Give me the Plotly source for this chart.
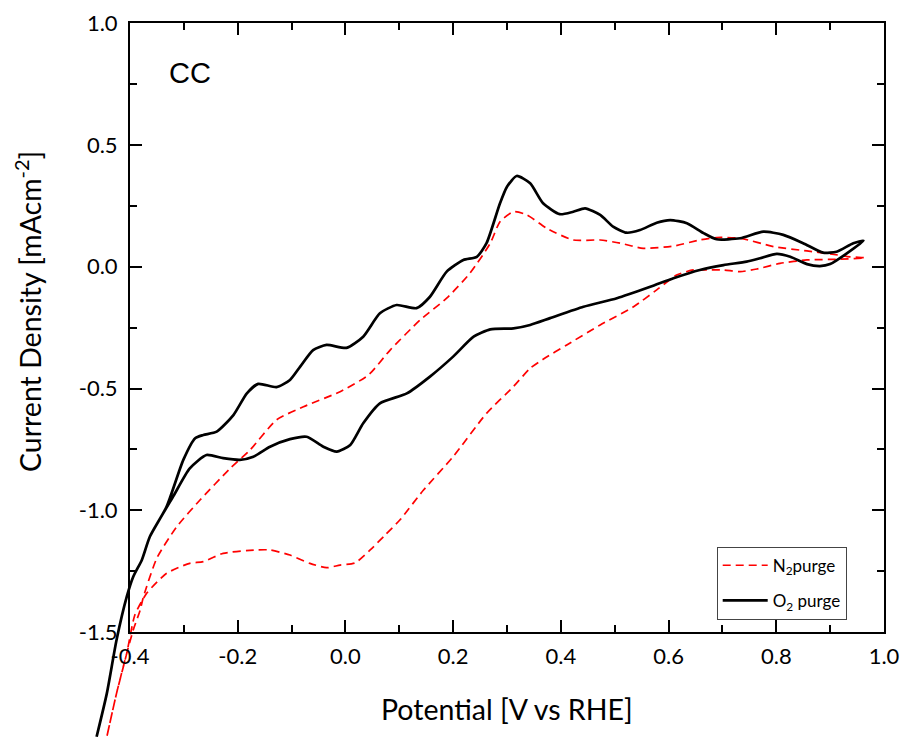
import plotly.graph_objects as go

# ---------------- data ----------------
# O2 purge: anodic (forward) sweep then cathodic (reverse) sweep
o2_fwd_potential = [-0.462, -0.443, -0.425, -0.406, -0.394, -0.378, -0.363, -0.332, -0.301, -0.279,
                    -0.264, -0.239, -0.208, -0.183, -0.162, -0.128, -0.103, -0.084, -0.060, -0.035,
                    0.002, 0.033, 0.064, 0.095, 0.132, 0.157, 0.188, 0.219, 0.244, 0.262,
                    0.287, 0.300, 0.318, 0.343, 0.367, 0.398, 0.423, 0.445, 0.473, 0.497,
                    0.522, 0.547, 0.578, 0.603, 0.634, 0.665, 0.689, 0.733, 0.776, 0.813,
                    0.850, 0.887, 0.912, 0.943, 0.962]
o2_fwd_current = [-1.930, -1.752, -1.533, -1.355, -1.273, -1.204, -1.108, -0.985, -0.793, -0.704,
                  -0.691, -0.677, -0.609, -0.520, -0.481, -0.494, -0.465, -0.410, -0.342, -0.321,
                  -0.333, -0.287, -0.191, -0.157, -0.170, -0.123, -0.020, 0.028, 0.041, 0.097,
                  0.261, 0.329, 0.373, 0.343, 0.261, 0.216, 0.226, 0.240, 0.213, 0.165,
                  0.140, 0.151, 0.181, 0.192, 0.179, 0.138, 0.113, 0.117, 0.144, 0.131,
                  0.097, 0.058, 0.062, 0.097, 0.107]
o2_rev_potential = [0.931, 0.900, 0.881, 0.857, 0.826, 0.801, 0.770, 0.745, 0.702, 0.658,
                    0.609, 0.566, 0.504, 0.442, 0.380, 0.343, 0.312, 0.269, 0.238, 0.200,
                    0.157, 0.114, 0.064, 0.033, 0.009, -0.016, -0.041, -0.072, -0.103, -0.140,
                    -0.171, -0.196, -0.227, -0.258, -0.289, -0.320, -0.363, -0.378, -0.394, -0.406,
                    -0.425, -0.443, -0.462]
o2_rev_current = [0.055, 0.011, 0.003, 0.011, 0.041, 0.053, 0.035, 0.021, 0.007, -0.013,
                  -0.047, -0.082, -0.129, -0.164, -0.211, -0.239, -0.253, -0.257, -0.287, -0.369,
                  -0.451, -0.520, -0.561, -0.643, -0.732, -0.759, -0.739, -0.698, -0.708, -0.739,
                  -0.780, -0.793, -0.786, -0.773, -0.828, -0.944, -1.108, -1.204, -1.273, -1.355,
                  -1.533, -1.752, -1.930]

# N2 purge
n2_fwd_potential = [-0.443, -0.425, -0.406, -0.394, -0.381, -0.375, -0.350, -0.313, -0.270, -0.214,
                    -0.177, -0.128, -0.078, -0.010, 0.043, 0.083, 0.139, 0.188, 0.231, 0.269,
                    0.287, 0.312, 0.337, 0.374, 0.423, 0.473, 0.510, 0.553, 0.609, 0.658,
                    0.689, 0.733, 0.795, 0.857, 0.900, 0.937, 0.965]
n2_fwd_current = [-1.930, -1.752, -1.587, -1.492, -1.409, -1.355, -1.196, -1.067, -0.958, -0.828,
                  -0.752, -0.629, -0.575, -0.513, -0.444, -0.342, -0.218, -0.129, -0.027, 0.097,
                  0.185, 0.226, 0.213, 0.158, 0.110, 0.110, 0.097, 0.076, 0.085, 0.110,
                  0.120, 0.117, 0.083, 0.065, 0.053, 0.041, 0.037]
n2_rev_potential = [0.918, 0.857, 0.807, 0.764, 0.733, 0.702, 0.671, 0.646, 0.615, 0.578,
                    0.535, 0.473, 0.411, 0.367, 0.343, 0.312, 0.262, 0.200, 0.145, 0.101,
                    0.074, 0.046, 0.018, -0.010, -0.035, -0.066, -0.103, -0.140, -0.165, -0.227,
                    -0.264, -0.289, -0.332, -0.369, -0.391, -0.406, -0.425, -0.443]
n2_rev_current = [0.031, 0.028, 0.014, -0.009, -0.020, -0.013, -0.013, -0.013, -0.034, -0.095,
                  -0.164, -0.239, -0.321, -0.380, -0.417, -0.492, -0.602, -0.780, -0.917, -1.040,
                  -1.101, -1.163, -1.216, -1.225, -1.236, -1.218, -1.184, -1.163, -1.163, -1.177,
                  -1.211, -1.218, -1.259, -1.341, -1.430, -1.587, -1.752, -1.930]

x_tickvals = [-0.4, -0.2, 0.0, 0.2, 0.4, 0.6, 0.8, 1.0]
x_ticktext = ["-0.4", "-0.2", "0.0", "0.2", "0.4", "0.6", "0.8", "1.0"]
x_minorvals = [-0.3, -0.1, 0.1, 0.3, 0.5, 0.7, 0.9]
y_tickvals = [-1.5, -1.0, -0.5, 0.0, 0.5, 1.0]
y_ticktext = ["-1.5", "-1.0", "-0.5", "0.0", "0.5", "1.0"]
y_minorvals = [-1.25, -0.75, -0.25, 0.25, 0.75]

series_names = ["N<sub>2</sub>purge", "O<sub>2</sub> purge"]

# ---------------- layout geometry ----------------
W, H = 905, 738
XR = [-0.4, 1.0]
YR = [-1.5, 1.0]
XD = [130 / W, 884 / W]
YD = [(H - 632) / H, (H - 23.3) / H]


def extend(r, d):
    span = (r[1] - r[0]) / (d[1] - d[0])
    return [r[0] - d[0] * span, r[1] + (1 - d[1]) * span]


TICKFONT = dict(family="Lato, Open Sans, sans-serif", size=22, color="black")
TITLEFONT = dict(family="Lato, Open Sans, sans-serif", size=28.5, color="black")

fig = go.Figure()
# empty trace that creates the framed display subplot (axes, ticks, labels)
fig.add_trace(go.Scatter(x=[], y=[], xaxis="x2", yaxis="y2", showlegend=False,
                         hoverinfo="skip", mode="lines"))
fig.add_trace(go.Scatter(
    x=n2_fwd_potential + n2_rev_potential, y=n2_fwd_current + n2_rev_current,
    mode="lines", name=series_names[0], xaxis="x", yaxis="y", legendgroup="n2",
    line=dict(color="#ff0000", width=1.7, dash="8px,5px", shape="spline", smoothing=0.6),
))
fig.add_trace(go.Scatter(
    x=o2_fwd_potential + o2_rev_potential, y=o2_fwd_current + o2_rev_current,
    mode="lines", name=series_names[1], xaxis="x", yaxis="y", legendgroup="o2",
    line=dict(color="black", width=2.7, shape="spline", smoothing=0.6),
))

axis_common = dict(showgrid=False, zeroline=False, showline=True, linecolor="black",
                   linewidth=2, mirror="ticks", ticks="inside", ticklen=12, tickwidth=2,
                   tickcolor="black", tickfont=TICKFONT, fixedrange=True, automargin=False)

fig.update_layout(
    template="none",
    width=W, height=H,
    margin=dict(l=0, r=0, t=0, b=0, pad=0, autoexpand=False),
    paper_bgcolor="white", plot_bgcolor="rgba(0,0,0,0)",
    showlegend=True,
    xaxis=dict(domain=[0, 1], range=extend(XR, XD), visible=False, anchor="y",
               fixedrange=True, automargin=False),
    yaxis=dict(domain=[0, 1], range=extend(YR, YD), visible=False, anchor="x",
               fixedrange=True, automargin=False),
    xaxis2=dict(domain=XD, range=XR, anchor="y2", tickmode="array", tickvals=x_tickvals,
                ticktext=x_ticktext, ticklabelstandoff=4,
                minor=dict(tickmode="array", tickvals=x_minorvals, ticks="inside", ticklen=7,
                           tickwidth=2, tickcolor="black", showgrid=False),
                **axis_common),
    yaxis2=dict(domain=YD, range=YR, anchor="x2", tickmode="array", tickvals=y_tickvals,
                ticktext=y_ticktext, ticklabelstandoff=6,
                minor=dict(tickmode="array", tickvals=y_minorvals, ticks="inside", ticklen=7,
                           tickwidth=2, tickcolor="black", showgrid=False),
                **axis_common),
    legend=dict(x=716.7 / W, y=1 - 546.7 / H, xanchor="left", yanchor="top",
                bgcolor="white", bordercolor="#444", borderwidth=1,
                font=dict(family="Lato, Open Sans, sans-serif", size=17, color="black"),
                itemwidth=45, tracegroupgap=10),
    annotations=[
        dict(text="CC", x=190 / W, y=1 - 73 / H, xref="paper", yref="paper",
             showarrow=False, xanchor="center", yanchor="middle",
             font=dict(family="Liberation Sans, Arial, sans-serif", size=29, color="black")),
        dict(text="Potential [V vs RHE]", x=507 / W, y=1 - 709 / H, xref="paper", yref="paper",
             showarrow=False, xanchor="center", yanchor="middle", font=TITLEFONT),
        dict(text="Current Density [mAcm<sup>-2</sup>]", x=28 / W, y=1 - 312 / H,
             xref="paper", yref="paper", textangle=-90,
             showarrow=False, xanchor="center", yanchor="middle", font=TITLEFONT),
    ],
)

fig.write_html("out.html", config={"displayModeBar": False},
               post_script="document.body.style.margin='0';document.body.style.overflow='hidden';")
